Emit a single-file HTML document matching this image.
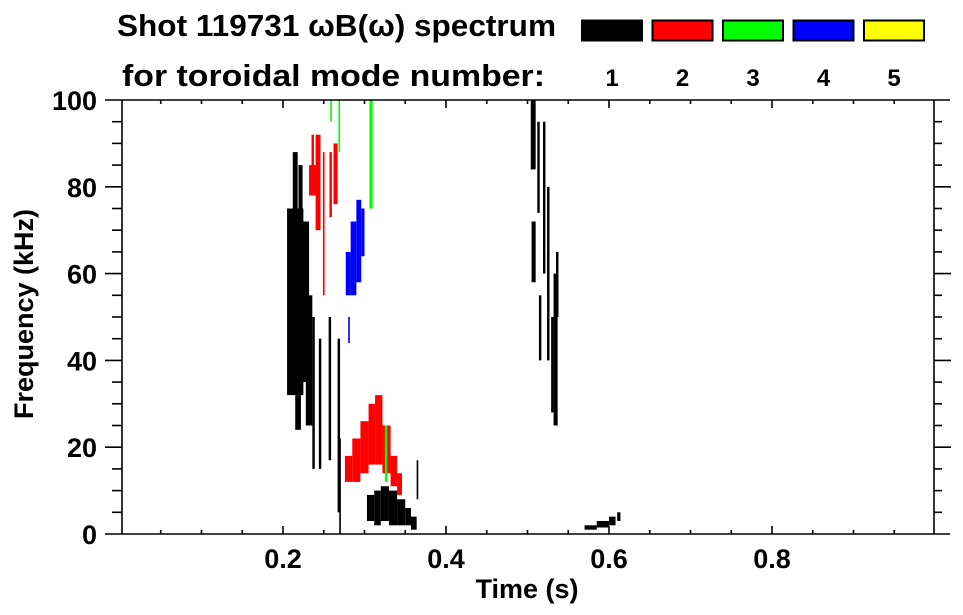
<!DOCTYPE html>
<html><head><meta charset="utf-8"><style>
html,body{margin:0;padding:0;background:#fff;}
svg{display:block;font-family:"Liberation Sans",sans-serif;font-weight:bold;}
</style></head><body>
<svg id="chart" width="963" height="615" viewBox="0 0 963 615" xmlns="http://www.w3.org/2000/svg">
<text x="117" y="36" font-size="31" textLength="439" lengthAdjust="spacingAndGlyphs">Shot 119731 ωB(ω) spectrum</text>
<text x="122" y="86" font-size="31" textLength="423" lengthAdjust="spacingAndGlyphs">for toroidal mode number:</text>
<g id="legend"></g>
<g id="marks"></g>
<g id="axes"></g>
<text x="527" y="598" font-size="27" text-anchor="middle">Time (s)</text>
<text transform="translate(33,314) rotate(-90)" font-size="27" text-anchor="middle">Frequency (kHz)</text>
</svg>
<script>
// data
const modeLabels = ["1","2","3","4","5"];
const modeColors = ["#000000","#ff0000","#00ff00","#0000ff","#ffff00"];
const xTicks = [0.2, 0.4, 0.6, 0.8];
const yTicks = [0, 20, 40, 60, 80, 100];
// streak data: start time, end time (s), low freq, high freq (kHz), mode index
const tStart = [0.205,0.210,0.228,0.215,0.236,0.244,0.256,0.267,0.269,0.212,0.219,
  0.232,0.240,0.257,0.262,0.249,0.235,
  0.276,0.285,0.295,0.305,0.313,0.322,0.332,0.340,
  0.303,0.312,0.320,0.330,0.340,0.350,0.357,0.364,
  0.277,0.283,0.290,0.296,0.280,
  0.306,0.268,0.258,0.325,
  0.504,0.512,0.519,0.524,0.505,0.514,0.524,0.532,0.529,0.535,
  0.570,0.585,0.600,0.610];
const tEnd   = [0.225,0.232,0.236,0.222,0.239,0.247,0.259,0.270,0.271,0.218,0.224,
  0.245,0.246,0.260,0.267,0.251,0.238,
  0.285,0.295,0.305,0.313,0.322,0.332,0.340,0.346,
  0.312,0.320,0.330,0.340,0.350,0.357,0.364,0.366,
  0.283,0.290,0.296,0.300,0.282,
  0.310,0.270,0.260,0.328,
  0.510,0.515,0.522,0.527,0.510,0.517,0.527,0.537,0.532,0.538,
  0.585,0.600,0.608,0.614];
const fLow   = [32,35,25,24,15,15,17,5,0,72,75,
  78,70,73,76,55,80,
  12,12,14,16,16,14,11,9,
  3,2,3,2,2,2,1,8,
  55,55,58,64,44,
  75,88,95,12,
  84,74,60,55,58,40,40,25,28,50,
  1,1.5,2,3];
const fHigh  = [75,72,55,32,50,45,50,45,22,88,85,
  85,92,88,90,88,92,
  18,22,26,30,32,25,18,14,
  9,10,11,10,8,6,4,17,
  65,72,77,75,50,
  100,100,100,25,
  100,95,95,80,72,55,65,60,50,65,
  2,3,4,5];
const modeIdx = [0,0,0,0,0,0,0,0,0,0,0,
  1,1,1,1,1,1,
  1,1,1,1,1,1,1,1,
  0,0,0,0,0,0,0,0,
  3,3,3,3,3,
  2,2,2,2,
  0,0,0,0,0,0,0,0,0,0,
  0,0,0,0];

const X0=120, X1=935, Y0=534, Y1=100;
const xs = t => X0 + t*(X1-X0);
const ys = f => Y0 - f/100*(Y0-Y1);
const NS="http://www.w3.org/2000/svg";
function mk(tag, attrs, parent){const e=document.createElementNS(NS,tag);for(const k in attrs)e.setAttribute(k,attrs[k]);parent.appendChild(e);return e;}

// legend
const lg=document.getElementById('legend');
modeLabels.forEach((lab,i)=>{
  const bx=582+i*70.5;
  const r=mk('rect',{x:bx,y:20.5,width:60,height:20,fill:modeColors[i],stroke:'#000','stroke-width':2},lg);
  
  
  const t=mk('text',{x:bx+30,y:86,'font-size':24,'text-anchor':'middle'},lg);
  t.textContent=lab;
  
  
});

// marks
const mg=document.getElementById('marks');
tStart.forEach((t,i)=>{
  const x=xs(t), w=Math.max(1.5, xs(tEnd[i])-x);
  const y=ys(fHigh[i]), h=ys(fLow[i])-y;
  const r=mk('rect',{x:x,y:y,width:w,height:h,fill:modeColors[modeIdx[i]]},mg);
  
  
});

// axes
const ax=document.getElementById('axes');
const ln=(x1,y1,x2,y2,name)=>{const l=mk('line',{x1,y1,x2,y2,stroke:'#000','stroke-width':1.6},ax);};
ln(105,Y0,950,Y0,'x-axis-line');
ln(105,Y1,950,Y1,'top-axis-line');
ln(X0+2,Y1,X0+2,Y0,'y-axis-line');
ln(X1-1,Y1,X1-1,Y0,'right-axis-line');
for(let k=1;k<20;k++){
  const t=k*0.05, x=xs(t), major=(k%4===0);
  const len=major?8:4;
  ln(x,Y0,x,Y0-len,'x-tick');
  ln(x,Y1,x,Y1+len,'top-tick');
}
for(let k=1;k<20;k++){
  const f=k*5, y=ys(f), major=(k%4===0);
  ln(X0+2,y,X0+2-(major?17:10),y,'y-tick');
  ln(X1-1,y,X1-1+(major?17:8),y,'right-tick');
}
xTicks.forEach(v=>{
  const t=mk('text',{x:xs(v),y:568,'font-size':27,'text-anchor':'middle'},ax);
  t.textContent=v.toFixed(1);
  
  
});
yTicks.forEach(v=>{
  const t=mk('text',{x:97,y:ys(v)+10,'font-size':27,'text-anchor':'end'},ax);
  t.textContent=String(v);
  
  
});
</script>
</body></html>
